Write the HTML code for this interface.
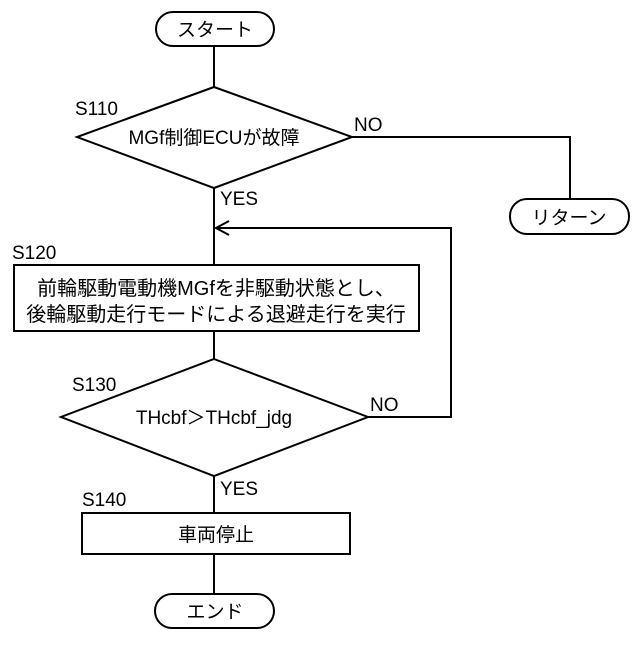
<!DOCTYPE html>
<html><head><meta charset="utf-8"><style>
body{margin:0;background:#fff}
svg text{font-family:"Liberation Sans","Noto Sans CJK JP",sans-serif;fill:#000}
</style></head><body>
<svg width="640" height="640" viewBox="0 0 640 640" xmlns="http://www.w3.org/2000/svg">
<g fill="none" stroke="#000" stroke-width="2">
<rect x="156" y="12" width="118" height="34" rx="17"/>
<rect x="510" y="199" width="119" height="35" rx="17"/>
<rect x="155" y="594" width="119" height="34" rx="17"/>
<polygon points="214,87 352,137 214,188 77,137"/>
<polygon points="214,359 368,417 214,476 61,417"/>
<rect x="14" y="265" width="405" height="66"/>
<rect x="82" y="513" width="268" height="41"/>
<line x1="214" y1="46" x2="214" y2="87"/>
<line x1="214" y1="188" x2="214" y2="265"/>
<line x1="214" y1="331" x2="214" y2="359"/>
<line x1="214" y1="476" x2="214" y2="513"/>
<line x1="214" y1="554" x2="214" y2="594"/>
<polyline points="352,137 570,137 570,199"/>
<polyline points="368,417 451,417 451,228 216,228"/>
<polyline points="229,221 216,228 229,235"/>
</g>
<g font-size="19">
<text x="215" y="36" text-anchor="middle">スタート</text>
<text x="569" y="224" text-anchor="middle">リターン</text>
<text x="215" y="618" text-anchor="middle">エンド</text>
<text x="214" y="144" text-anchor="middle">MGf制御ECUが故障</text>
<text x="214" y="424" text-anchor="middle">THcbf＞THcbf_jdg</text>
<text x="216" y="295" text-anchor="middle" font-size="20">前輪駆動電動機MGfを非駆動状態とし、</text>
<text x="216" y="321" text-anchor="middle" font-size="20">後輪駆動走行モードによる退避走行を実行</text>
<text x="216" y="541" text-anchor="middle">車両停止</text>
<text x="75" y="115">S110</text>
<text x="12" y="259">S120</text>
<text x="72" y="391">S130</text>
<text x="82" y="506">S140</text>
<text x="354" y="131">NO</text>
<text x="370" y="411">NO</text>
<text x="220" y="205">YES</text>
<text x="220" y="495">YES</text>
</g>
</svg>
</body></html>
